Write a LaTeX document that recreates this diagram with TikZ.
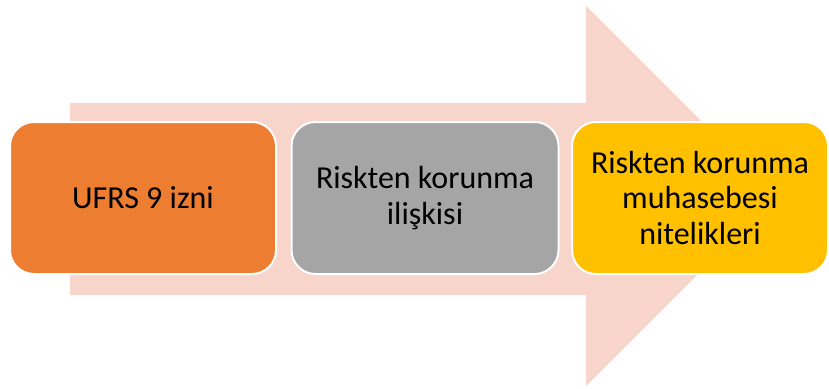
\documentclass[tikz,border=0pt]{standalone}
\usepackage{fontspec}
\setmainfont{Carlito}
\usetikzlibrary{positioning}
\definecolor{arrowpink}{HTML}{F7D5CB}
\definecolor{stepone}{HTML}{ED7D31}
\definecolor{steptwo}{HTML}{A5A5A5}
\definecolor{stepthree}{HTML}{FFC000}

\begin{document}
\begin{tikzpicture}[x=1pt,y=-1pt]
            \tikzstyle{every node}+=[inner sep=0pt]
            \tikzstyle{stepbox}=[draw=white, line width=2pt, rounded corners=24pt, minimum height=152pt, align=center, font=\fontsize{32}{35.5}\selectfont]
            \useasboundingbox (0,0) rectangle (829,388);
            \fill [arrowpink] (70,103) -- (586,103) -- (586,6) -- (776,196) -- (586,386) -- (586,295) -- (70,295) -- cycle;
            \node [stepbox, fill=stepone, minimum width=266pt] (ufrs) at (143,198) {UFRS 9 izni};
            \node [stepbox, fill=steptwo, minimum width=267pt] (iliski) at (425,198) {Riskten korunma\\ilişkisi};
            \node [stepbox, fill=stepthree, minimum width=256pt] (nitelik) at (700,198) {Riskten korunma\\muhasebesi\\nitelikleri};
\end{tikzpicture}
\end{document}
